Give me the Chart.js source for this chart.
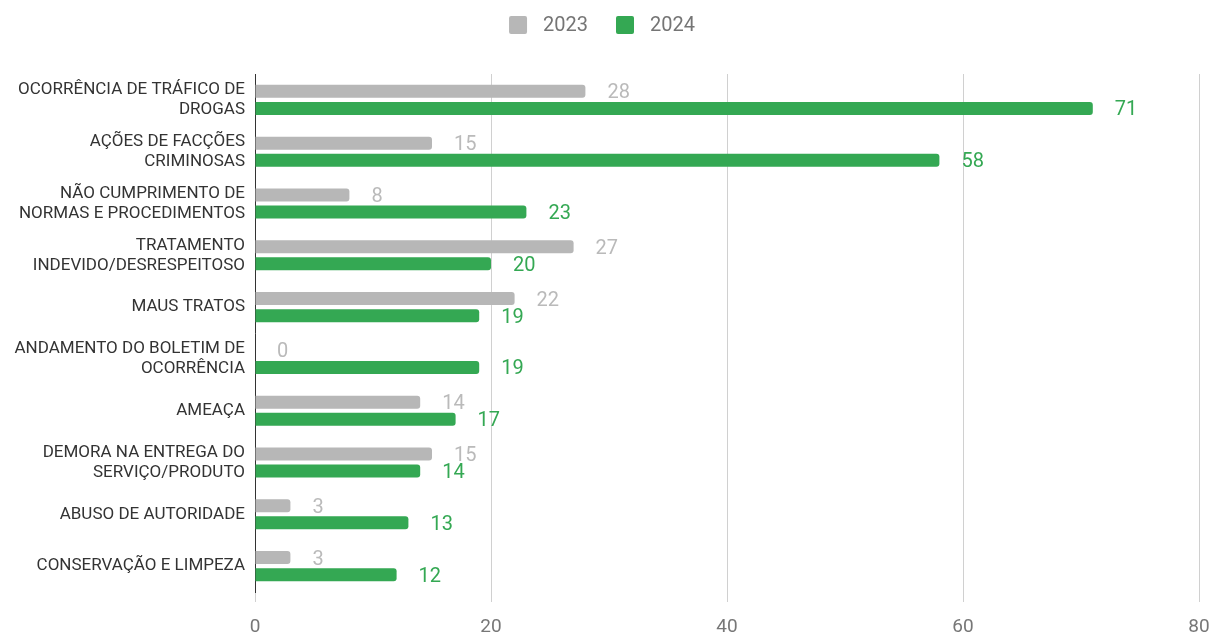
<!DOCTYPE html>
<html lang="pt">
<head>
  <meta charset="UTF-8" />
  <title>Ocorrências 2023 x 2024</title>
  <script src="https://cdn.jsdelivr.net/npm/chart.js"></script>
  <style>
    html, body { margin: 0; padding: 0; background: #fff; }
    #wrap { width: 1215px; height: 632px; }
  </style>
</head>
<body>
  <div id="wrap"><canvas id="chart"></canvas></div>

  <script>
    // data
    const categories = [
      ['OCORRÊNCIA DE TRÁFICO DE', 'DROGAS'],
      ['AÇÕES DE FACÇÕES', 'CRIMINOSAS'],
      ['NÃO CUMPRIMENTO DE', 'NORMAS E PROCEDIMENTOS'],
      ['TRATAMENTO', 'INDEVIDO/DESRESPEITOSO'],
      'MAUS TRATOS',
      ['ANDAMENTO DO BOLETIM DE', 'OCORRÊNCIA'],
      'AMEAÇA',
      ['DEMORA NA ENTREGA DO', 'SERVIÇO/PRODUTO'],
      'ABUSO DE AUTORIDADE',
      'CONSERVAÇÃO E LIMPEZA'
    ];
    const values2023 = [28, 15, 8, 27, 22, 0, 14, 15, 3, 3];
    const values2024 = [71, 58, 23, 20, 19, 19, 17, 14, 13, 12];
    const xTicks = [0, 20, 40, 60, 80];

    const GRAY = '#b7b7b7';
    const GREEN = '#34a853';

    // value labels drawn to the right of each bar
    const valueLabels = {
      id: 'valueLabels',
      afterDatasetsDraw(chart) {
        const ctx = chart.ctx;
        ctx.save();
        ctx.font = '20px Roboto';
        ctx.textBaseline = 'middle';
        ctx.textAlign = 'left';
        chart.data.datasets.forEach((ds, i) => {
          const meta = chart.getDatasetMeta(i);
          ctx.fillStyle = ds.labelColor;
          meta.data.forEach((bar, j) => {
            ctx.fillText(ds.data[j], bar.x + 22, bar.y + 2);
          });
        });
        ctx.restore();
      }
    };

    // legend at the top, drawn by hand to get the spacing right
    const topLegend = {
      id: 'topLegend',
      afterDraw(chart) {
        const ctx = chart.ctx;
        const box = 18, gapText = 16, gapItem = 28, y = 25;
        ctx.save();
        ctx.font = '20px Roboto';
        ctx.textBaseline = 'middle';
        ctx.textAlign = 'left';
        const items = chart.data.datasets.map(ds => ({
          text: ds.label, color: ds.backgroundColor, w: ctx.measureText(ds.label).width
        }));
        let total = 0;
        items.forEach((it, i) => {
          total += box + gapText + it.w + (i ? gapItem : 0);
        });
        let x = 602 - total / 2;
        items.forEach(it => {
          ctx.fillStyle = it.color;
          ctx.beginPath();
          ctx.roundRect(x, y - box / 2, box, box, 2);
          ctx.fill();
          ctx.fillStyle = '#757575';
          ctx.fillText(it.text, x + box + gapText, y + 1);
          x += box + gapText + it.w + gapItem;
        });
        ctx.restore();
      }
    };

    new Chart(document.getElementById('chart'), {
      type: 'bar',
      data: {
        labels: categories,
        datasets: [
          {
            label: '2023',
            data: values2023,
            backgroundColor: GRAY,
            labelColor: '#bababa',
            borderRadius: 3,
            borderSkipped: 'start',
            categoryPercentage: 0.66,
            barPercentage: 0.76
          },
          {
            label: '2024',
            data: values2024,
            backgroundColor: GREEN,
            labelColor: GREEN,
            borderRadius: 3,
            borderSkipped: 'start',
            categoryPercentage: 0.66,
            barPercentage: 0.76
          }
        ]
      },
      options: {
        indexAxis: 'y',
        responsive: true,
        maintainAspectRatio: false,
        animation: false,
        layout: { padding: { left: 0, right: 0, top: 74, bottom: 0 } },
        scales: {
          x: {
            min: 0,
            max: 80,
            afterBuildTicks(scale) {
              scale.ticks = xTicks.map(v => ({ value: v }));
            },
            afterFit(scale) {
              scale.height = 40;
              scale.paddingRight = 16;
            },
            grid: { color: '#d0d0d0', drawTicks: true, tickLength: 10 },
            border: { display: false },
            ticks: {
              color: '#777',
              font: { family: 'Roboto', size: 19 },
              padding: 14
            }
          },
          y: {
            afterFit(scale) { scale.width = 255; },
            grid: { display: false, drawTicks: false },
            border: { display: true, color: '#333', width: 1 },
            ticks: {
              color: '#333',
              font: { family: 'Roboto', size: 17, lineHeight: '20px' },
              padding: 10,
              crossAlign: 'near'
            }
          }
        },
        plugins: {
          legend: { display: false },
          tooltip: { enabled: false }
        }
      },
      plugins: [valueLabels, topLegend]
    });
  </script>
</body>
</html>
